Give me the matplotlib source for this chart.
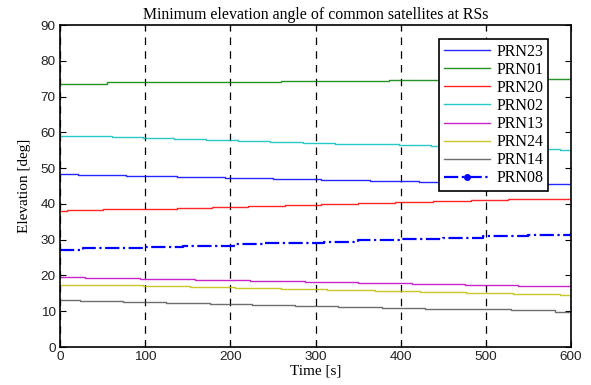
import matplotlib
matplotlib.use("Agg")
import matplotlib.pyplot as plt
from matplotlib.lines import Line2D

# Elevation readings (time of each step in s, elevation in deg)
prn23_t = [0, 21, 78, 137, 194, 250, 307, 364, 421, 480, 540, 600]
prn23_v = [48.27, 48.0, 47.8, 47.6, 47.2, 46.95, 46.7, 46.4, 46.1, 45.9, 45.6, 45.4]

prn01_t = [0, 55, 150, 260, 386, 500, 600]
prn01_v = [73.6, 73.95, 74.2, 74.45, 74.75, 75.0, 75.0]

prn20_t = [0, 8, 50, 94, 137, 178, 221, 264, 307, 350, 393, 438, 483, 526, 569, 600]
prn20_v = [38.0, 38.2, 38.45, 38.7, 38.95, 39.2, 39.45, 39.7, 39.95, 40.2, 40.45,
           40.75, 41.0, 41.25, 41.5, 41.5]

prn02_t = [0, 23, 61, 97, 134, 172, 209, 247, 285, 323, 360, 398, 436, 474, 512,
           550, 587, 600]
prn02_v = [59.1, 58.9, 58.6, 58.35, 58.1, 57.85, 57.6, 57.35, 57.1, 56.85, 56.6,
           56.35, 56.1, 55.85, 55.6, 55.3, 55.0, 55.0]

prn13_t = [0, 29, 94, 158, 223, 288, 350, 413, 475, 538, 600]
prn13_v = [19.45, 19.3, 19.0, 18.8, 18.5, 18.3, 17.9, 17.6, 17.4, 17.1, 17.1]

prn24_t = [0, 41, 97, 153, 205, 260, 313, 370, 423, 477, 532, 587, 600]
prn24_v = [17.4, 17.2, 16.95, 16.7, 16.4, 16.2, 15.9, 15.65, 15.3, 15.0, 14.7,
           14.45, 14.45]

prn14_t = [0, 23, 74, 125, 176, 225, 276, 327, 378, 428, 477, 530, 581, 600]
prn14_v = [13.1, 12.86, 12.6, 12.3, 12.0, 11.7, 11.5, 11.25, 11.0, 10.7, 10.5,
           10.25, 9.87, 9.87]

prn08_t = [0, 27, 99, 145, 204, 239, 310, 350, 399, 450, 497, 550, 600]
prn08_v = [27.2, 27.6, 28.0, 28.2, 28.7, 29.1, 29.4, 29.8, 30.2, 30.6, 31.0, 31.4, 31.8]

labels = ["PRN23", "PRN01", "PRN20", "PRN02", "PRN13", "PRN24", "PRN14", "PRN08"]
x_ticks = [0, 100, 200, 300, 400, 500, 600]
y_ticks = [0, 10, 20, 30, 40, 50, 60, 70, 80, 90]

colors = ["#0000ff", "#008000", "#ff0000", "#00bfbf", "#bf00bf", "#bfbf00",
          "#555555", "#0000ff"]

serif = ["Liberation Serif", "DejaVu Serif"]
sans = ["Liberation Sans", "DejaVu Sans"]

fig = plt.figure(figsize=(5.91, 3.85), dpi=100)
ax = fig.add_axes([60 / 591, 38 / 385, 511 / 591, 322 / 385])

series = [
    (prn23_t, prn23_v), (prn01_t, prn01_v), (prn20_t, prn20_v), (prn02_t, prn02_v),
    (prn13_t, prn13_v), (prn24_t, prn24_v), (prn14_t, prn14_v),
]
handles = []
for (t, v), c, lab in zip(series, colors, labels):
    ax.step(t, v, where="post", color=c, lw=1.0, alpha=0.85)
    handles.append(Line2D([], [], color=c, lw=1.0, alpha=0.85, label=lab))

ax.step(prn08_t, prn08_v, where="post", color=colors[7], lw=1.6, ls="-.")
handles.append(Line2D([], [], color=colors[7], lw=1.6, ls="-.", marker=".",
                      markersize=8, label=labels[7]))

ax.set_xlim(0, 600)
ax.set_ylim(0, 90)
ax.set_xticks(x_ticks)
ax.set_yticks(y_ticks)
ax.tick_params(direction="in", top=True, right=True, length=4, width=0.8,
               labelsize=9.7, colors="black", pad=3)
for lab in ax.get_xticklabels() + ax.get_yticklabels():
    lab.set_fontfamily(sans)
    lab.set_color("#222222")
for sp in ax.spines.values():
    sp.set_linewidth(1.2)
    sp.set_color("black")

ax.xaxis.grid(True, color="black", ls=(0, (6, 5)), lw=0.9)
ax.yaxis.grid(False)

ax.set_title("Minimum elevation angle of common satellites at RSs",
             fontfamily=serif, fontsize=11.4, pad=4)
ax.set_xlabel("Time [s]", fontfamily=serif, fontsize=11, labelpad=1)
ax.set_ylabel("Elevation [deg]", fontfamily=serif, fontsize=11, labelpad=7)

leg = ax.legend(handles=handles, loc="upper right",
                bbox_to_anchor=((548 - 60) / 511, (347 - 39) / 322),
                prop={"family": serif, "size": 11.5}, frameon=True, fancybox=False,
                edgecolor="black", framealpha=1, handlelength=2.9,
                handletextpad=0.4, labelspacing=0.13, borderpad=0.3,
                borderaxespad=0)
leg.get_frame().set_linewidth(1.2)

fig.savefig("out.png", dpi=100)
